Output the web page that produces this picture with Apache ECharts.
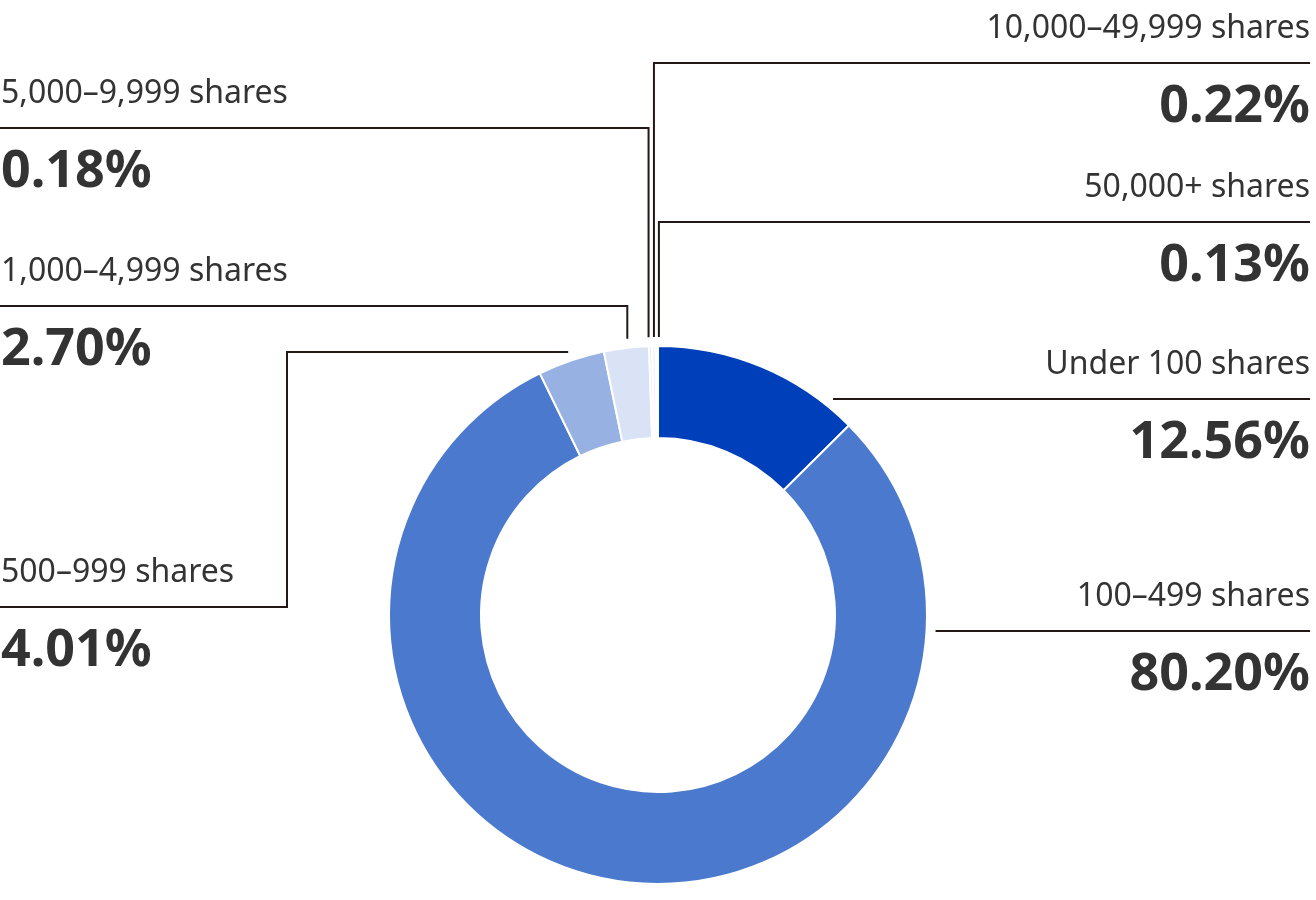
<!DOCTYPE html>
<html>
<head>
<meta charset="utf-8">
<script src="https://cdn.jsdelivr.net/npm/echarts@6/dist/echarts.min.js"></script>
<style>
html,body{margin:0;padding:0;background:#fff;}
#chart{width:1316px;height:900px;}
</style>
</head>
<body>
<div id="chart"></div>
<script>
// ---- data ----
const categories = [
  'Under 100 shares',
  '100–499 shares',
  '500–999 shares',
  '1,000–4,999 shares',
  '5,000–9,999 shares',
  '10,000–49,999 shares',
  '50,000+ shares'
];
const shareValues = [12.56, 80.20, 4.01, 2.70, 0.18, 0.22, 0.13];
const sliceColors = ['#003fba', '#4a79cd', '#98b1e3', '#dae3f5', '#e4ebf7', '#f0f4fb', '#f7f9fd'];

// ---- layout (positions only) ----
const CX = 658, CY = 615, R_OUT = 269, R_IN = 177, GAP = 9;
const RIGHT_X = 1310, LEFT_X = 0;
const NAME_H = 68, PCT_H = 88;
const spots = [
  { side: 'right', lineY: 399, mode: 'h' },
  { side: 'right', lineY: 631, mode: 'h' },
  { side: 'left',  lineY: 607, mode: 'elbow', elbowX: 287 },
  { side: 'left',  lineY: 306, mode: 'v', dx: 1 },
  { side: 'left',  lineY: 128, mode: 'v', dx: -2 },
  { side: 'right', lineY: 63,  mode: 'v', dx: 0 },
  { side: 'right', lineY: 222, mode: 'v', dx: 2 }
];

const chart = echarts.init(document.getElementById('chart'), null, { renderer: 'canvas' });

const seriesData = categories.map((name, i) => ({
  name: name,
  value: shareValues[i],
  itemStyle: { color: sliceColors[i] }
}));

chart.setOption({
  animation: false,
  backgroundColor: '#ffffff',
  series: [{
    type: 'pie',
    silent: true,
    center: [CX, CY],
    radius: [R_IN, R_OUT],
    startAngle: 90,
    clockwise: true,
    avoidLabelOverlap: false,
    itemStyle: { borderColor: '#ffffff', borderWidth: 2 },
    label: {
      show: true,
      position: 'outside',
      formatter: p => '{n|' + p.name + '}\n{p|' + p.value.toFixed(2) + '%}',
      rich: {
        n: { fontFamily: 'Noto Sans', fontSize: 32, lineHeight: NAME_H, color: '#333333' },
        p: { fontFamily: 'Noto Sans', fontSize: 52, fontWeight: 'bold', lineHeight: PCT_H, color: '#333333' }
      }
    },
    labelLine: {
      show: true,
      length: 10,
      length2: 10,
      lineStyle: { color: '#231815', width: 2 }
    },
    labelLayout: function (params) {
      const s = spots[params.dataIndex];
      const pts = params.labelLinePoints;
      const p0 = pts && pts[0] ? pts[0] : [CX, CY - R_OUT];
      const ux = (p0[0] - CX) / R_OUT, uy = (p0[1] - CY) / R_OUT;
      const RG = R_OUT + GAP;
      const endX = s.side === 'right' ? RIGHT_X : LEFT_X;
      let line;
      if (s.mode === 'h') {
        const dy = s.lineY - CY;
        const x = CX + Math.sqrt(RG * RG - dy * dy);
        line = [[x, s.lineY], [endX, s.lineY]];
      } else if (s.mode === 'v') {
        const x = CX + R_OUT * ux + (s.dx || 0);
        const ddx = x - CX;
        const y = CY - Math.sqrt(RG * RG - ddx * ddx);
        line = [[x, y], [x, s.lineY], [endX, s.lineY]];
      } else {
        const sx = CX + RG * ux, sy = CY + RG * uy;
        line = [[sx, sy], [s.elbowX, sy], [s.elbowX, s.lineY], [endX, s.lineY]];
      }
      return {
        x: s.side === 'right' ? RIGHT_X : LEFT_X + 1,
        y: s.lineY - NAME_H,
        align: s.side === 'right' ? 'right' : 'left',
        verticalAlign: 'top',
        labelLinePoints: line
      };
    },
    data: seriesData
  }]
});
</script>
</body>
</html>
